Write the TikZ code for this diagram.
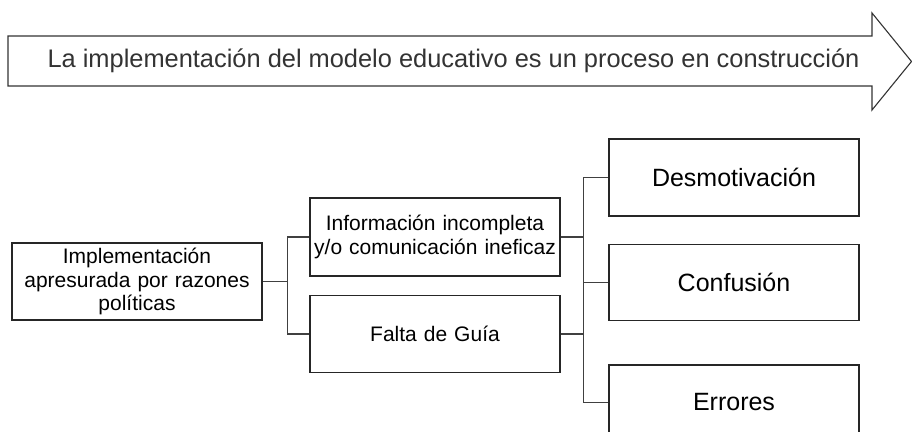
\documentclass[tikz,border=0pt]{standalone}
\usepackage{fontspec}
\setmainfont{Liberation Sans}
\usetikzlibrary{positioning, calc}

\begin{document}
\begin{tikzpicture}[x=1pt, y=-1pt]
% estilos de los nodos
\tikzstyle{block} = [rectangle, draw=black!85, line width=1.5pt, minimum width=250pt, text width=246pt, text centered, inner sep=0pt]
\tikzstyle{small} = [font=\fontsize{21}{23.5}\selectfont]
\tikzstyle{big} = [font=\fontsize{25}{30}\selectfont]
\tikzstyle{line} = [draw=black!75, line width=1.1pt]

\clip (0,0) rectangle (912,431);

% flecha superior
\draw [line width=1.1pt, draw=black!80] (8,36) -- (872,36) -- (872,13) -- (911.5,61.5) -- (872,110) -- (872,86) -- (8,86) -- cycle;
\node [font=\fontsize{25.4}{30}\selectfont, text=black!80] (proceso) at (453.5,61) {La implementación del modelo educativo es un proceso en construcción};

% cajas
\node [block, small, minimum height=77pt] (impl) at (137,281.5) {Implementación\\apresurada por razones\\políticas};
\node [block, small, minimum height=78pt] (info) at (435,237) {Información incompleta\\y/o comunicación ineficaz};
\node [block, small, minimum height=77pt, below=18pt of info] (falta) {Falta de Guía};
\node [block, big, minimum height=77pt] (desmot) at (734,177.5) {Desmotivación};
\node [block, big, minimum height=76pt, below=27pt of desmot] (conf) {Confusión};
\node [block, big, minimum height=75pt, below=43pt of conf] (err) {Errores};

% conexiones
\path [line] (impl.east) -- ++(24.5,0) coordinate (jL);
\path [line] (info.west) -| (jL) |- (falta.west);
\path (conf.west) ++(-24.5,0) coordinate (jR);
\path [line] (desmot.west) -| (jR) |- (err.west);
\path [line] (info.east) -- (info.east -| jR);
\path [line] (falta.east) -- (falta.east -| jR);
\path [line] (conf.west) -- (jR);
\end{tikzpicture}
\end{document}
